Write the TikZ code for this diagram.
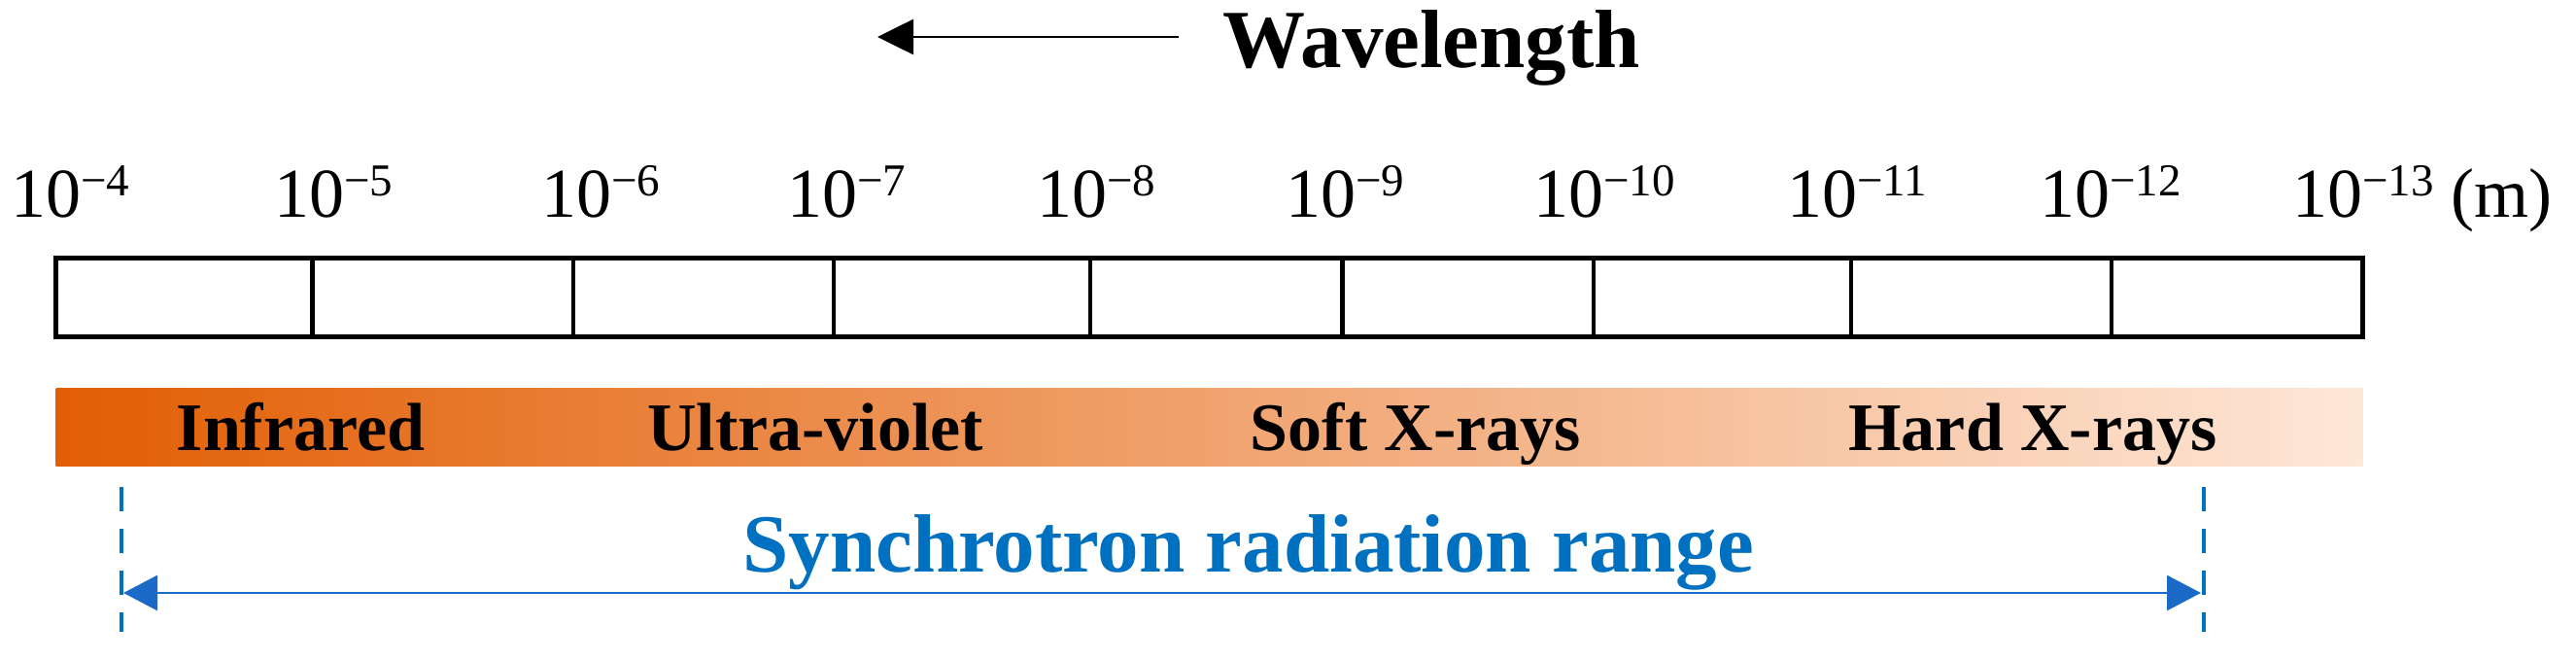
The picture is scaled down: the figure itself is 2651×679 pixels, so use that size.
\documentclass[tikz,border=0pt]{standalone}
\usepackage{fontspec}
\setmainfont{Liberation Serif}
\usetikzlibrary{arrows.meta}
\definecolor{srblue}{RGB}{0,112,192}
\definecolor{arrblue}{RGB}{28,106,200}
\definecolor{orL}{RGB}{226,94,4}
\definecolor{orR}{RGB}{254,231,216}
\newcommand{\pten}[1]{10\raisebox{22pt}{\fontsize{47}{50}\selectfont −#1}}
\begin{document}
\begin{tikzpicture}[x=1pt,y=-1pt,
  ticklbl/.style={anchor=base west,inner sep=0pt,font=\fontsize{72}{80}\selectfont},
  bandlbl/.style={anchor=base,inner sep=0pt,font=\fontsize{70}{78}\selectfont\bfseries},
  scalebox/.style={line width=4.5pt,line join=miter},
  divline/.style={line width=4.5pt},
  rangedash/.style={srblue,line width=4.5pt,dash pattern=on 25pt off 18pt},
  rangearrow/.style={arrblue,line width=2.7pt,{Triangle[length=35pt,width=36pt]}-{Triangle[length=35pt,width=36pt]}},
  wlarrow/.style={black,line width=2.7pt,-{Triangle[length=37pt,width=36pt]}}]
\useasboundingbox (0,0) rectangle (2651,679);

% Wavelength header
\coordinate (wlstart) at (1213,38);
\coordinate (wltip) at (903,38);
\draw[wlarrow] (wlstart) -- (wltip);
\node[anchor=base west,inner sep=0pt,font=\fontsize{85}{90}\selectfont\bfseries] (wl) at (1258,70) {Wavelength};

% tick labels
\node[ticklbl] (t4) at (11,224) {\pten{4}};
\node[ticklbl] (t5) at (282,224) {\pten{5}};
\node[ticklbl] (t6) at (557,224) {\pten{6}};
\node[ticklbl] (t7) at (810,224) {\pten{7}};
\node[ticklbl] (t8) at (1067,224) {\pten{8}};
\node[ticklbl] (t9) at (1323,224) {\pten{9}};
\node[ticklbl] (t10) at (1578,224) {\pten{10}};
\node[ticklbl] (t11) at (1839,224) {\pten{11}};
\node[ticklbl] (t12) at (2099,224) {\pten{12}};
\node[ticklbl] (t13) at (2359,224) {\pten{13} (m)};

% scale box
\draw[scalebox] (57.5,265.7) rectangle (2431.5,346.7);
\foreach \x in {321.7,590,858,1122,1381.6,1640,1905,2173}
  \draw[divline] (\x,265.7) -- (\x,346.7);

% gradient band
\shade[left color=orL,right color=orR] (57.5,399) rectangle (2431.5,479);
\node[bandlbl] (ir) at (309.5,463) {Infrared};
\node[bandlbl] (uv) at (839,463) {Ultra-violet};
\node[bandlbl] (sx) at (1457,463) {Soft X-rays};
\node[bandlbl] (hx) at (2092,463) {Hard X-rays};

% synchrotron range
\coordinate (dlt) at (125,501);
\coordinate (dlb) at (125,650);
\coordinate (drt) at (2268,501);
\coordinate (drb) at (2268,650);
\draw[rangedash] (dlt) -- (dlb);
\draw[rangedash] (drt) -- (drb);
\coordinate (al) at (127,610);
\coordinate (ar) at (2265,610);
\draw[rangearrow] (al) -- (ar);
\node[anchor=base,inner sep=0pt,text=srblue,font=\fontsize{85}{90}\selectfont\bfseries] (sr) at (1285,588) {Synchrotron radiation range};
\end{tikzpicture}
\end{document}
